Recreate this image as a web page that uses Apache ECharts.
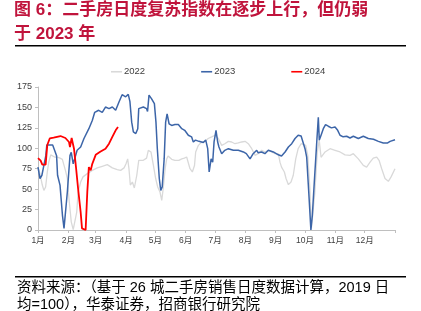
<!DOCTYPE html>
<html>
<head>
<meta charset="utf-8">
<script src="https://cdn.jsdelivr.net/npm/echarts@6/dist/echarts.min.js"></script>
<style>html,body{margin:0;padding:0;background:#fff}#c{width:421px;height:311px}</style>
</head>
<body>
<div id="c"></div>
<script>
// x = day of year (0 = 1 Jan), y = index value
var monthLabels = ['1月','2月','3月','4月','5月','6月','7月','8月','9月','10月','11月','12月'];
var monthStartDays = [0,31,59,90,120,151,181,212,243,273,304,334];
var yearEndDay = 365;
var seriesNames = ['2022','2023','2024'];

var data2022 = [[0,77],[2,69],[4.4,55],[6,48.5],[7.8,52.6],[9.5,71],[11,83],[13,92],[14.6,93.4],[17,89.3],[19.7,89.3],[22.5,88],[24.9,86.5],[26.6,79],[28.3,71.8],[30,63],[31.7,38],[34,10],[36,0.4],[37.5,1],[39.6,22],[41,46.5],[43.6,58.7],[46,65],[50.4,69],[55.5,73],[60.6,76],[65.7,78],[70.8,80],[76,76],[81,74],[84.5,73],[88,76],[90,81],[91.7,87],[93,75],[94.4,55],[96.5,58.7],[98.5,51.4],[101,67],[103,85.3],[107.7,85.3],[111,88],[112.8,97.5],[115.5,95.5],[118,79],[120.3,63],[122.4,52.6],[124.7,46.5],[126.5,36.3],[128,50.5],[130,75],[131.6,87],[133,90.5],[136.7,86.5],[140,85.3],[144,85.3],[147,87],[149.6,88],[152,89.3],[155.4,75],[157.8,71],[160,79],[161.2,95.5],[164,103.6],[167.4,107.7],[170.8,108.5],[174,112],[177.6,114],[181,116],[184.4,112],[187.8,103.6],[191,105.6],[194.6,108.5],[198,107.7],[201.4,105.6],[204.8,106.5],[208.3,107.7],[211.7,108.5],[215,105.6],[218.5,99.5],[221.9,91.4],[225,93.4],[228.7,97.5],[232,95.5],[235.5,97.5],[239,95.5],[242.3,93.4],[245.7,93.4],[247.4,83],[249,77],[251.9,71],[253.6,63],[256,55.5],[258.7,58.7],[261,67],[263.5,87],[266,99.5],[269,105.6],[271,107.7],[273.7,103.6],[275.8,91.4],[278,50.5],[279.5,2],[281,0],[283,45],[285.5,95],[287.5,110],[289.4,89],[293.5,95.5],[298.6,99.5],[303.7,97.5],[308.8,95.5],[313.9,92],[319,91.4],[322.4,93.4],[327.5,87],[332.6,79],[336,77],[339.5,83],[342.8,88],[346.3,89.3],[348.7,85.3],[351.4,75],[354.8,63],[358.2,59.6],[361,65],[365,75]];

var data2023 = [[0,77],[2,63],[4,67],[6,79],[8,91],[9,104],[11,105.6],[15,104],[17,101.6],[19,91],[20,67],[22.5,55],[25,18],[26.6,2],[27.6,0],[30,46.5],[32.7,91],[34,95],[36,81],[37.5,87],[40,97.5],[43.6,101.6],[47,112],[52,124],[55.5,134],[58,144],[62,146.5],[65.7,144],[69,150.5],[72.6,148.5],[76,150.5],[79.4,146.5],[82.8,156.7],[86,165.6],[89.6,163],[92.3,166],[94,157],[95.8,132],[97.5,120],[100,118],[102,124],[103,148.5],[107.7,150.5],[111,148.5],[112,145],[113.5,165],[116,160.7],[119,154.6],[120.6,132],[122,99.5],[124,63],[125.5,48.5],[127,52.6],[129,87],[130.5,132],[132,142],[134,130],[136.7,128],[140,129],[143.5,129],[147,124],[150,122],[153.7,116],[157,114],[158.8,107.7],[161,110],[164.6,108.5],[169,107],[171.5,110],[173.5,99.5],[175,71],[177,87],[178.6,83],[180,107.7],[182,122],[183.7,107.7],[185,101.6],[187.8,93.4],[191,97.5],[194.6,99.5],[199.7,97.5],[204.8,97.5],[210,95.5],[213,93.4],[216.8,87],[220,93.4],[223.6,97.5],[225,94.6],[228.7,95.5],[232,93.4],[235.5,97.5],[240.6,95.5],[245.7,92],[249,90.5],[252.6,95.5],[256,101.6],[259.4,105.6],[262.8,112],[266,116],[269,115],[271,116.6],[273,99.5],[274.7,89.3],[277,42.5],[279,0],[280.5,18],[282.5,58.7],[285,107.7],[286.6,138],[287.6,110],[289.4,116],[291.7,124],[294,129],[296.8,127],[300,125],[303.7,126],[306.4,122],[308.8,116],[312,114],[315.6,114.7],[319,112.6],[322.4,114.7],[327.5,112],[332.6,114.7],[337.7,112],[343,111],[348,108.5],[353,106.5],[357.5,106.5],[360,108.5],[362,110],[365,110.5]];

var data2024 = [[0,88],[2.7,85],[4.4,80],[7.8,80],[9.5,104],[12,112],[16,113],[23,115],[28,112.6],[31.7,107.7],[32.7,101.6],[34.4,112.6],[36.8,99.5],[39,75],[41,50.5],[43.6,22],[45,2],[46.6,0],[48.7,0],[50.4,46.5],[52,77],[53.9,73],[55.5,81],[59,92],[64,96],[69,99.5],[72.6,105.6],[76,114],[79.4,122],[81.8,126]];

var yTicks = {min:0, max:175, interval:25};

var chart = echarts.init(document.getElementById('c'), null, {renderer:'canvas'});
var FONT = 'Liberation Sans, Arial, "Noto Sans CJK SC", sans-serif';
var tickDays = monthStartDays.concat([yearEndDay]);

chart.setOption({
  animation:false,
  backgroundColor:'#fff',
  title:{
    text:'图 6：二手房日度复苏指数在逐步上行，但仍弱\n于 2023 年',
    left:14, top:-2, padding:[0,0,0,0],
    textStyle:{fontSize:17, lineHeight:24, fontWeight:'bold', color:'#C0143C', fontFamily:FONT}
  },
  graphic:[
    {type:'rect', shape:{x:15,y:45,width:391,height:1.5}, style:{fill:'#000'}},
    {type:'rect', shape:{x:15,y:276,width:391,height:1.5}, style:{fill:'#000'}},
    {type:'text', left:17, top:279, style:{text:'资料来源：（基于 26 城二手房销售日度数据计算，2019 日\n均=100），华泰证券，招商银行研究院', fontSize:14.5, lineHeight:17.5, fill:'#000', fontFamily:FONT}}
  ],
  legend:{
    data:seriesNames, left:106, top:62, itemGap:56, itemWidth:11, itemHeight:1.6, icon:'rect',
    textStyle:{fontSize:9.5, color:'#404040', fontFamily:FONT, padding:[0,0,0,-3]}
  },
  grid:{left:38, right:26, top:87, bottom:81, containLabel:false},
  xAxis:{
    type:'value', min:0, max:yearEndDay,
    axisLine:{show:true, lineStyle:{color:'#BFBFBF', width:1}},
    axisTick:{show:true, customValues:tickDays, length:3, lineStyle:{color:'#BFBFBF'}},
    axisLabel:{customValues:monthStartDays, fontSize:8.5, color:'#404040', fontFamily:FONT, margin:6,
      formatter:function(v){var i=monthStartDays.indexOf(Math.round(v)); return i>=0?monthLabels[i]:'';}},
    splitLine:{show:false}
  },
  yAxis:{
    type:'value', min:yTicks.min, max:yTicks.max, interval:yTicks.interval,
    axisLine:{show:true, lineStyle:{color:'#BFBFBF', width:1}},
    axisTick:{show:true, length:3, lineStyle:{color:'#BFBFBF'}},
    axisLabel:{fontSize:9, color:'#404040', fontFamily:FONT, margin:6},
    splitLine:{show:false}
  },
  series:[
    {name:seriesNames[0], type:'line', data:data2022, symbol:'none', color:'#D9D9D9', lineStyle:{width:1.3, color:'#D9D9D9'}, z:1},
    {name:seriesNames[1], type:'line', data:data2023, symbol:'none', color:'#3C65A8', lineStyle:{width:1.5, color:'#3C65A8'}, z:2},
    {name:seriesNames[2], type:'line', data:data2024, symbol:'none', color:'#FF0000', lineStyle:{width:1.8, color:'#FF0000'}, z:3}
  ]
});
</script>
</body>
</html>
